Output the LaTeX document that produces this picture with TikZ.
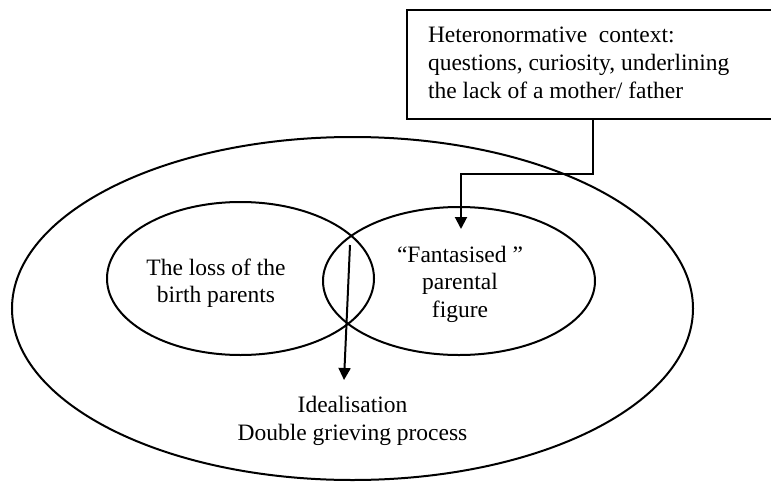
\documentclass[tikz,border=0pt]{standalone}
\usepackage{fontspec}
\setmainfont{Liberation Serif}
\usetikzlibrary{shapes.geometric,arrows.meta}

\begin{document}
\begin{tikzpicture}[x=1pt,y=-1pt,
  every node/.style={inner sep=0pt, outer sep=0pt},
  lbl/.style={font=\fontsize{23.5}{27.8}\selectfont, align=center},
  ring/.style={draw, ellipse, line width=2pt},
  ctxbox/.style={draw, line width=2pt, rectangle},
  link/.style={line width=2pt, -{Triangle[length=12pt,width=12pt]}}
]
\useasboundingbox (0,0) rectangle (771,482);

% outer field and the two overlapping circles
\node[ring, minimum width=681pt, minimum height=343pt] (outer) at (352.5,308.5) {};
\node[ring, minimum width=267pt, minimum height=153pt] (loss) at (240.5,278.5) {};
\node[ring, minimum width=272pt, minimum height=148pt] (fant) at (459,281) {};

% context box (runs off the right-hand edge)
\node[ctxbox, minimum width=372pt, minimum height=109pt] (ctx) at (593,64.5) {};
\node[lbl, align=left, anchor=west] (ctxtext) at (428,63)
  {Heteronormative\ \ context:\\questions, curiosity, underlining\\the lack of a mother/ father};

% labels
\node[lbl] (losstext) at (216,283.2) {The loss of the\\birth parents};
\node[lbl] (fanttext) at (460,284.2) {“Fantasised ”\\parental\\figure};
\node[lbl] (ideal) at (352.5,420.7) {Idealisation\\Double grieving process};

% connector ends
\coordinate (ctxin) at (461,229);
\coordinate (lens) at (350,245);
\coordinate (idealin) at (344,380);

% connectors
\draw[link] (ctx.south) -- ++(0,55) -| (ctxin);
\draw[link] (lens) -- (idealin);
\end{tikzpicture}
\end{document}
